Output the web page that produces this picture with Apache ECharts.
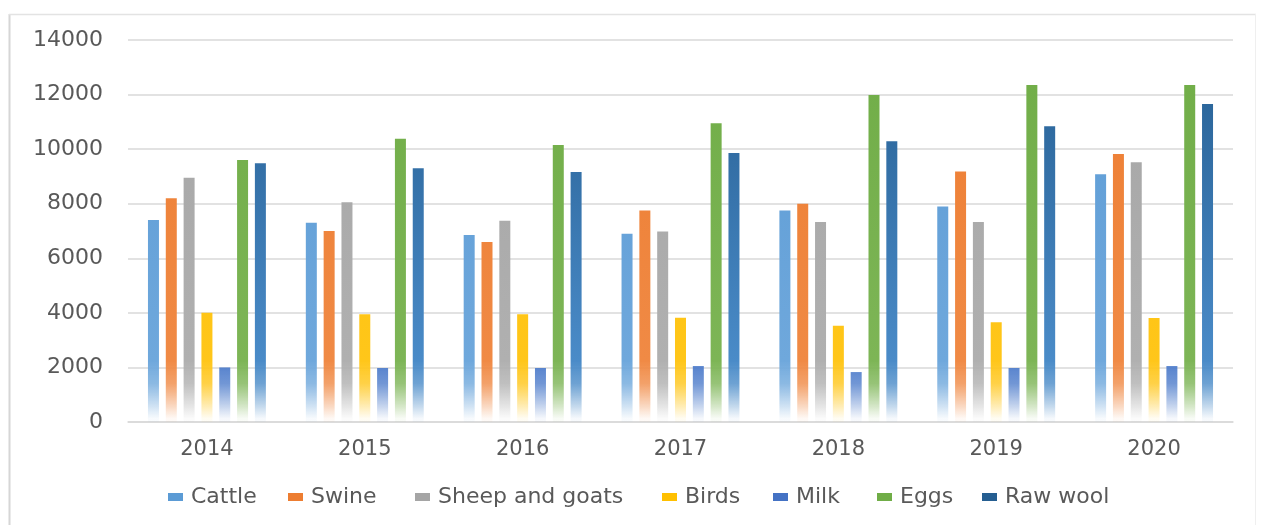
<!DOCTYPE html>
<html>
<head>
<meta charset="utf-8">
<script src="https://cdn.jsdelivr.net/npm/echarts@6/dist/echarts.min.js"></script>
<style>
html,body{margin:0;padding:0;background:#fff;}
#chart{width:1267px;height:525px;}
</style>
</head>
<body>
<div id="chart"></div>
<script>
const categories = ['2014','2015','2016','2017','2018','2019','2020'];
const seriesNames = ['Cattle','Swine','Sheep and goats','Birds','Milk','Eggs','Raw wool'];
const cattle = [7400, 7300, 6850, 6900, 7750, 7900, 9080];
const swine = [8200, 7000, 6600, 7750, 8000, 9180, 9820];
const sheepGoats = [8950, 8050, 7380, 6980, 7330, 7330, 9520];
const birds = [4000, 3950, 3950, 3820, 3530, 3660, 3810];
const milk = [2000, 1980, 1980, 2050, 1830, 1980, 2050];
const eggs = [9600, 10380, 10150, 10950, 11980, 12350, 12350];
const rawWool = [9480, 9300, 9160, 9860, 10290, 10840, 11650];
const yTicks = [0, 2000, 4000, 6000, 8000, 10000, 12000, 14000];

const values = [cattle, swine, sheepGoats, birds, milk, eggs, rawWool];
const colors = ['#5B9BD5', '#ED7D31', '#A5A5A5', '#FFC000', '#4472C4', '#70AD47', '#255E91'];
const midColors = ['#6FA8DC', '#F08A45', '#B0B0B0', '#FFC61A', '#4F7DCB', '#7DB556', '#4A8BC8'];
const legendLeft = [168, 288, 415, 662, 773, 877, 982];

const chart = echarts.init(document.getElementById('chart'), null, {renderer: 'canvas'});

function rgba(hex, a) {
  const n = parseInt(hex.slice(1), 16);
  return 'rgba(' + ((n >> 16) & 255) + ',' + ((n >> 8) & 255) + ',' + (n & 255) + ',' + a + ')';
}

function grad(i) {
  const m = midColors[i];
  return new echarts.graphic.LinearGradient(0, 40, 0, 422, [
    {offset: 0, color: colors[i]},
    {offset: 0.84, color: m},
    {offset: 0.9, color: rgba(m, 0.8)},
    {offset: 0.95, color: rgba(m, 0.4)},
    {offset: 0.99, color: rgba(m, 0.06)},
    {offset: 1, color: rgba(m, 0.03)}
  ], true);
}

const series = seriesNames.map((name, i) => ({
  name: name,
  type: 'bar',
  data: values[i],
  barWidth: 11,
  barGap: '62%',
  itemStyle: {color: grad(i)},
}));

const legends = seriesNames.map((n, i) => ({
  data: [{name: n, itemStyle: {color: colors[i]}}],
  top: 486,
  left: legendLeft[i],
  icon: 'rect',
  itemWidth: 15,
  itemHeight: 8,
  itemGap: 0,
  padding: 0,
  selectedMode: false,
  textStyle: {fontFamily: 'DejaVu Sans', fontSize: 22, color: '#595959', padding: [0, 0, 0, 3]}
}));

chart.setOption({
  animation: false,
  color: colors,
  graphic: [
    {type: 'line', shape: {x1: 9.5, y1: 14, x2: 9.5, y2: 525}, style: {stroke: '#d6d6d6', lineWidth: 2}},
    {type: 'line', shape: {x1: 9, y1: 14.5, x2: 1256, y2: 14.5}, style: {stroke: '#e3e3e3', lineWidth: 1.5}},
    {type: 'line', shape: {x1: 1255.5, y1: 14, x2: 1255.5, y2: 525}, style: {stroke: '#efefef', lineWidth: 1}}
  ],
  grid: {left: 128, right: 34, top: 40, bottom: 103, containLabel: false},
  legend: legends,
  xAxis: {
    type: 'category',
    data: categories,
    axisLine: {show: true, lineStyle: {color: '#d9d9d9', width: 1.5}},
    axisTick: {show: false},
    axisLabel: {fontFamily: 'DejaVu Sans', fontSize: 21, color: '#595959', margin: 17}
  },
  yAxis: {
    type: 'value',
    min: yTicks[0],
    max: yTicks[yTicks.length - 1],
    interval: 2000,
    axisLine: {show: false},
    axisTick: {show: false},
    splitLine: {lineStyle: {color: '#d9d9d9', width: 1.5}},
    axisLabel: {fontFamily: 'DejaVu Sans', fontSize: 22, color: '#595959', margin: 25, formatter: v => String(v)}
  },
  series: series
});
</script>
</body>
</html>
